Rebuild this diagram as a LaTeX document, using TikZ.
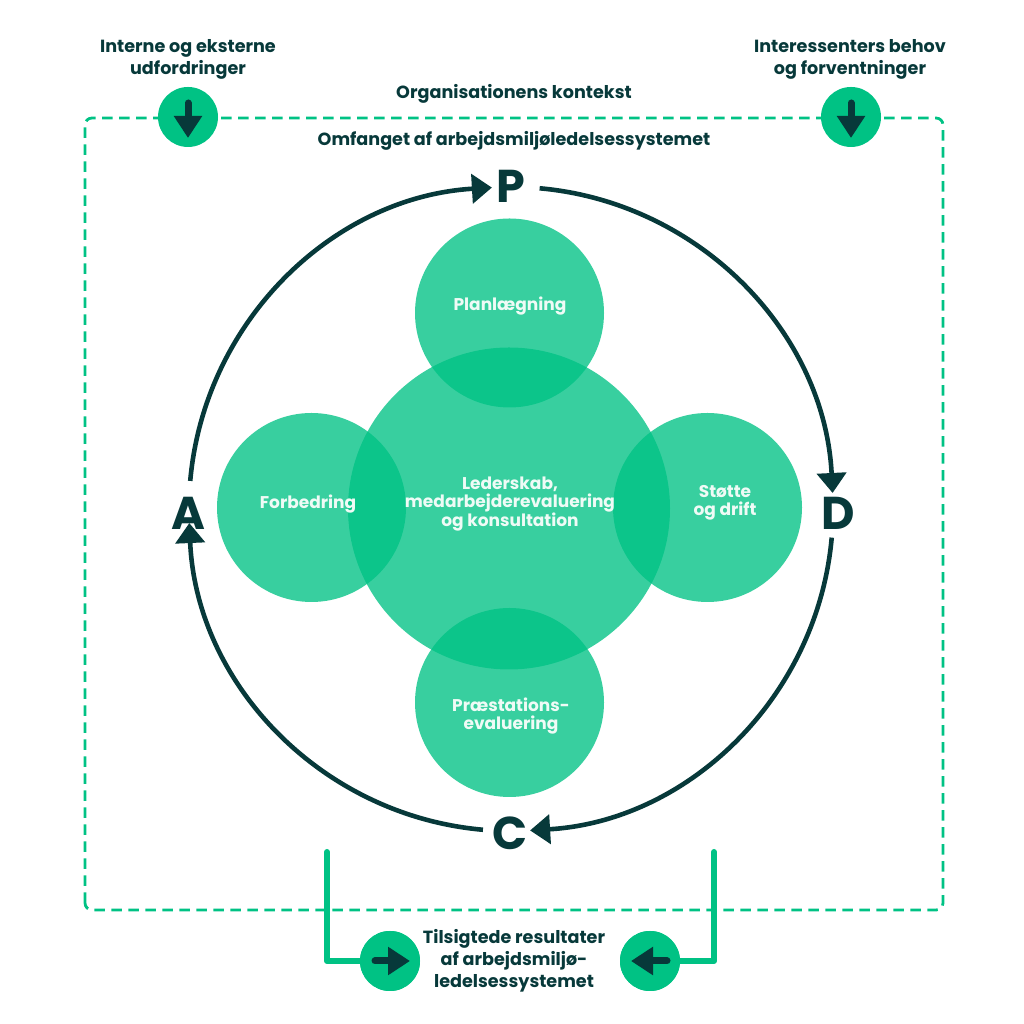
\documentclass[tikz,border=0pt]{standalone}
\usepackage{fontspec}
\setmainfont{Poppins}
\usetikzlibrary{arrows.meta}
\definecolor{gr}{HTML}{00C284}
\definecolor{dk}{HTML}{07393A}
\definecolor{lt}{HTML}{EFFBF6}
\tikzset{
 x=1pt,y=1pt,
 txt/.style={inner sep=0pt,align=center,text=dk,font=\fontsize{17.6}{22}\selectfont\bfseries},
 wtxt/.style={inner sep=0pt,align=center,text=lt,font=\fontsize{17}{18.5}\selectfont\bfseries},
 letter/.style={inner sep=0pt,text=dk,font=\fontsize{46}{46}\selectfont\bfseries},
 blob/.style={circle,minimum size=#1,inner sep=0pt,fill=gr,fill opacity=.78},
 badge/.style={circle,minimum size=60pt,inner sep=0pt,fill=gr},
 ringline/.style={draw=dk,line width=4.6pt,-{Triangle[length=20pt,width=29pt]}},
 inarrow/.style={draw=dk,line width=7pt,line cap=round,-{Triangle[length=22pt,width=27pt]}},
 feed/.style={draw=gr,line width=6pt,line cap=round,line join=round},
 scopebox/.style={draw=gr,line width=2.8pt,rounded corners=7pt,dash pattern=on 10.5pt off 6.5pt},
}
\begin{document}
\begin{tikzpicture}
\useasboundingbox (0,0) rectangle (1024,1024);
% scope box
\coordinate (bl) at (85,114);
\coordinate (tr) at (943,906);
\draw[scopebox] (bl) rectangle (tr);
% feedback lines
\coordinate (lfree) at (327,172);
\coordinate (rfree) at (714,172);
\node[badge] (b3) at (390,63) {};
\node[badge] (b4) at (650,63) {};
\draw[feed] (lfree) |- (b3.center);
\draw[feed] (rfree) |- (b4.center);
\node[badge] (b3) at (390,63) {};
\node[badge] (b4) at (650,63) {};
\node[badge] (b1) at (188,907) {};
\node[badge] (b2) at (851,907) {};
% badge arrows
\coordinate (b1s) at (188,921); \coordinate (b1e) at (188,886);
\coordinate (b2s) at (851,921); \coordinate (b2e) at (851,886);
\coordinate (b3s) at (375,63); \coordinate (b3e) at (410,63);
\coordinate (b4s) at (667,63); \coordinate (b4e) at (631,63);
\draw[inarrow] (b1s) -- (b1e);
\draw[inarrow] (b2s) -- (b2e);
\draw[inarrow] (b3s) -- (b3e);
\draw[inarrow] (b4s) -- (b4e);
% central blobs
\node[blob=322pt] (lead) at (509,515.5) {};
\node[blob=189pt] (plan) at (509.5,711) {};
\node[blob=189pt] (forb) at (311.5,516.5) {};
\node[blob=189pt] (stot) at (707.5,516.5) {};
\node[blob=189pt] (prae) at (509.5,321.5) {};
\node[wtxt] (tlead) at (510,520) {Lederskab,\\medarbejderevaluering\\og konsultation};
\node[wtxt] (tplan) at (510,718) {Planlægning};
\node[wtxt] (tforb) at (308,520) {Forbedring};
\node[wtxt] (tstot) at (725,521) {Støtte\\og drift};
\node[wtxt] (tprae) at (511,308) {Præstations-\\evaluering};
% PDCA
\coordinate (ring) at (511,515);
\node[letter] (P) at (510.5,838) {P};
\node[letter] (D) at (838,511) {D};
\node[letter] (C) at (510,191) {C};
\node[letter] (A) at (188,511) {A};
\draw[ringline] ([shift={(175:322)}]ring) arc[start angle=175,end angle=93.4,radius=322];
\draw[ringline] ([shift={(84.9:322)}]ring) arc[start angle=84.9,end angle=2.85,radius=322];
\draw[ringline] ([shift={(-5.1:322)}]ring) arc[start angle=-5.1,end angle=-86.6,radius=322];
\draw[ringline] ([shift={(265:322)}]ring) arc[start angle=265,end angle=182.5,radius=322];
% labels
\node[txt] (t1) at (188,965) {Interne og eksterne\\udfordringer};
\node[txt] (t2) at (850,965) {Interessenters behov\\og forventninger};
\node[txt] (t3) at (514,930.5) {Organisationens kontekst};
\node[txt] (t4) at (514,883.5) {Omfanget af arbejdsmiljøledelsessystemet};
\node[txt] (t5) at (514,63) {Tilsigtede resultater\\af arbejdsmiljø-\\ledelsessystemet};
\end{tikzpicture}
\end{document}
